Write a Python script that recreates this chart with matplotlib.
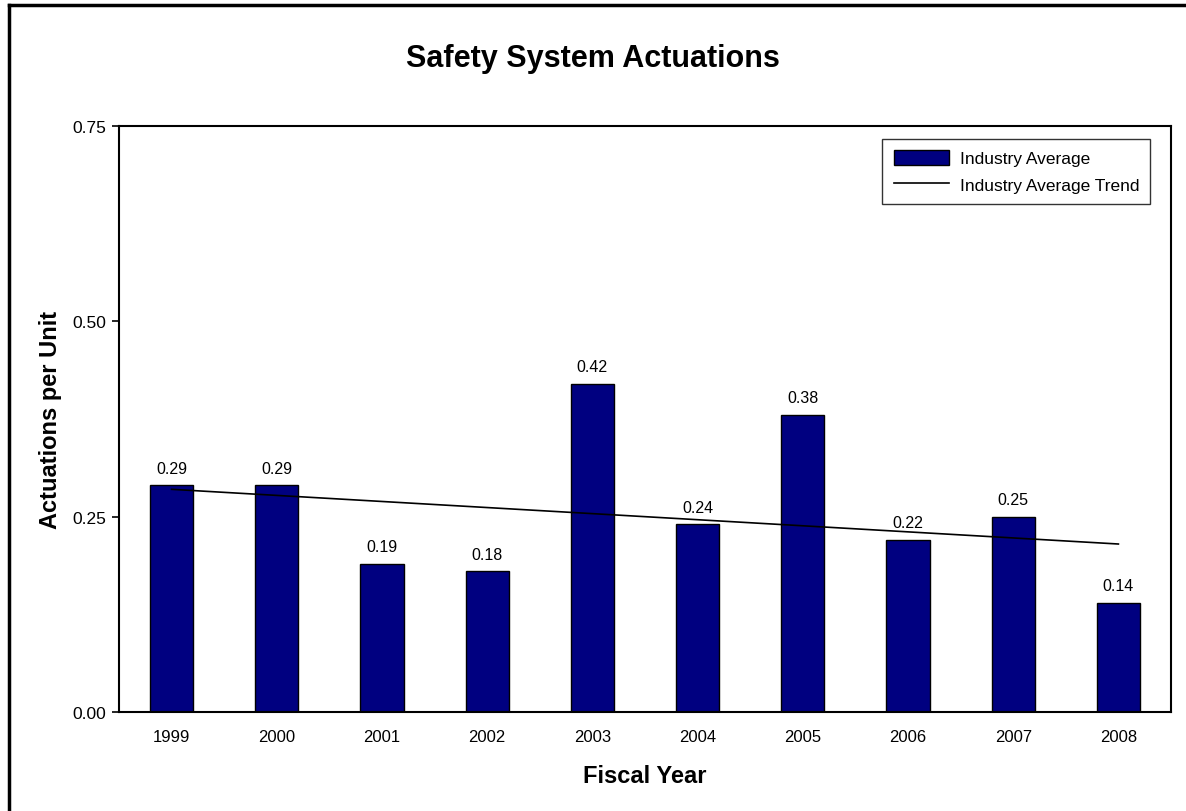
import matplotlib.pyplot as plt
from matplotlib.lines import Line2D

plt.rcParams['font.family'] = ['Liberation Sans', 'DejaVu Sans']

years = ['1999', '2000', '2001', '2002', '2003', '2004', '2005', '2006', '2007', '2008']
industry_avg = [0.29, 0.29, 0.19, 0.18, 0.42, 0.24, 0.38, 0.22, 0.25, 0.14]
# trend line end points (1999 and 2008)
trend_years = ['1999', '2008']
trend_vals = [0.285, 0.215]
y_ticks = [0.00, 0.25, 0.50, 0.75]

fig = plt.figure(figsize=(11.86, 8.12), dpi=100)
ax = fig.add_axes([119 / 1186, 99 / 812, 1052 / 1186, 586 / 812])

xs = list(range(len(years)))
bars = ax.bar(xs, industry_avg, width=0.41, color='#000080', edgecolor='black',
              linewidth=1.0, label='Industry Average', zorder=2)
tx = [years.index(y) for y in trend_years]
line, = ax.plot(tx, trend_vals, color='black', linewidth=1.2, label='Industry Average Trend', zorder=3)

for x, v in zip(xs, industry_avg):
    ax.annotate(f'{v:.2f}', (x, v), xytext=(0, 7), textcoords='offset points',
                ha='center', va='bottom', fontsize=11.5)

ax.set_xlim(-0.5, 9.5)
ax.set_ylim(0, 0.75)
ax.set_xticks(xs)
ax.set_xticklabels(years, fontsize=12)
ax.set_yticks(y_ticks)
ax.set_yticklabels([f'{t:.2f}' for t in y_ticks], fontsize=12.5)
ax.tick_params(axis='x', length=0, pad=12)
ax.tick_params(axis='y', length=5, width=1.2, direction='out', pad=4)
for s in ax.spines.values():
    s.set_linewidth(1.5)

ax.set_xlabel('Fiscal Year', fontsize=17, fontweight='bold', labelpad=15)
ax.set_ylabel('Actuations per Unit', fontsize=17, fontweight='bold', labelpad=8)
fig.text(0.5, 1 - 59 / 812, 'Safety System Actuations', ha='center', va='center',
         fontsize=22, fontweight='bold')

leg = ax.legend([bars, line], ['Industry Average', 'Industry Average Trend'],
                loc='upper right', bbox_to_anchor=(0.9805, 0.978), fontsize=12.5,
                frameon=True, fancybox=False, edgecolor='black', borderpad=0.65,
                handlelength=3.2, handleheight=0.9, labelspacing=0.6, handletextpad=0.6,
                borderaxespad=0)
leg.get_frame().set_linewidth(1.0)

# outer chart border (left and top edges visible)
fig.add_artist(Line2D([9 / 1186, 9 / 1186], [0, 1 - 6 / 812], color='black', linewidth=2.5,
                      transform=fig.transFigure))
fig.add_artist(Line2D([9 / 1186, 1], [1 - 6 / 812, 1 - 6 / 812], color='black', linewidth=2.5,
                      transform=fig.transFigure))

fig.savefig('out.png', dpi=100)
